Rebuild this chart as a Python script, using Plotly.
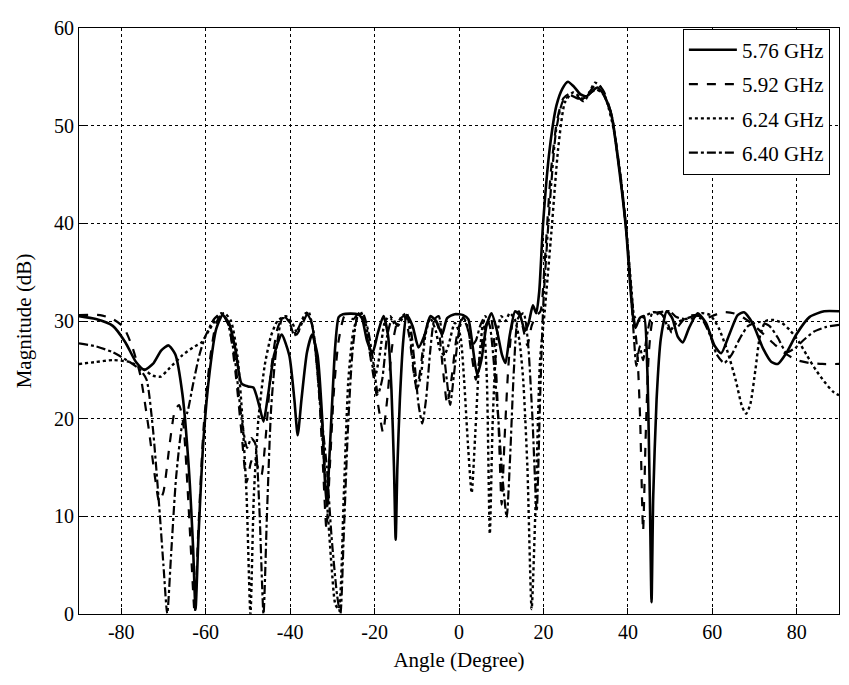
import plotly.graph_objects as go

# ---------- data ----------
x_576 = [-90, -86, -82, -79, -76.5, -74.5, -72.5, -70.5, -68.8, -67.2, -65.5, -64, -63, -62.4, -61.7, -60.5, -59, -57.5,
         -56, -54.5, -53, -51.5, -50, -48.7, -47.3, -46.3, -45.2, -43.8, -42, -40.2, -39, -38.2, -37.3, -36, -34.8,
         -33.5, -32.4, -31.8, -31.3, -30.7, -30, -29.3, -28.5, -27.5, -24, -23, -21.8, -20.5, -19.2, -17.9, -16.8,
         -16, -15.4, -15, -14.6, -14, -13.2, -12.4, -11, -9.6, -8.2, -6.8, -5.4, -4, -2.8, -1, 1, 2.2, 3.2, 4.3, 5.3,
         6.5, 7.7, 9, 10.2, 11, 12, 13.3, 14.5, 15.6, 16.5, 17.5, 18.3, 19, 19.9, 21.5, 23.1, 24.5, 25.8, 27.2, 28.8,
         30.2, 31.5, 32.8, 34.3, 36.1, 38.1, 39.6, 40.4, 41.2, 41.8, 42.8, 43.8, 44.6, 45.2, 45.6, 46.0, 46.8, 47.8,
         49.2, 50.5, 51.8, 53, 54.5, 56.5, 58.5, 60.5, 62.1, 64, 66, 67.5, 69.5, 72, 74, 75.5, 77.5, 80, 83, 86.5, 90]
y_576 = [30.5, 30.2, 29.5, 27.8, 25.8, 25.0, 25.6, 27.0, 27.5, 26.6, 22.5, 15, 7, 0.5, 8, 18, 25, 29.2,
         30.6, 29.8, 27.2, 23.6, 23.3, 23.2, 21.3, 19.7, 22.5, 26.5, 28.6, 26.5, 22, 18.3, 22, 26.8, 28.6,
         26.5, 20, 14, 11, 16, 22, 27.5, 30.4, 30.7, 30.7, 30.3, 28, 26.7, 28.8, 30.5, 28.5,
         23, 15, 7.6, 15, 22, 28, 30.6, 29.5, 27.3, 28.5, 30.5, 30, 28.6, 30.3, 30.7, 30.6, 30.2, 27.5, 24.5, 26,
         29.5, 30.8, 29, 26.5, 25.7, 28.5, 31, 30.5, 29, 29.8, 31.6, 30.8, 33, 39.9, 47.7, 52.1, 53.8, 54.5, 54.0, 53.2,
         53.0, 53.5, 53.9, 53.2, 51.1, 45, 39.2, 34.5, 30.5, 29.3, 30.3, 30.5, 25, 12, 1.2, 12, 22, 28.2,
         31.0, 30.3, 28.4, 27.8, 29.3, 30.8, 29.8, 27.5, 26.7, 28.6, 30.6, 30.9, 29.8, 27.2, 25.8, 25.6, 26.7, 28.7, 30.4, 31, 31]

x_592 = [-90, -85, -82, -79.5, -77.5, -75.5, -73.5, -72, -71, -70, -68.5, -67.3, -66.3, -65.3, -64.3, -63.3, -62.6,
         -61.8, -60.5, -59, -57.5, -56, -54.5, -53, -51.5, -50.3, -49.3, -48.5, -47.6, -46.8, -45.8, -44.5, -43,
         -41.5, -40, -38.5, -37, -35.8, -34.5, -33.2, -32.2, -31.4, -30.6, -29.6, -28.5, -27, -25, -23.4, -22,
         -20.5, -19, -18, -17, -15.8, -14.5, -13, -11.8, -10.8, -10, -9, -8, -6.5, -5, -3.8, -2.8, -1.8, -0.5,
         0.8, 2, 3, 4, 5, 6.3, 7.5, 8.5, 9.4, 10.1, 10.8, 11.8, 13, 14.2, 15.3, 16.2, 17.2, 18.2, 19.3, 20.3,
         21.7, 23.2, 24.7, 26.3, 28, 29.5, 31, 32.8, 34.3, 36.2, 38.2, 39.7, 40.6, 41.4, 42.2, 42.9, 43.6, 44.2,
         45, 46, 47.5, 49, 50.4, 52, 54, 56, 58.5, 60.5, 62.5, 65, 67.5, 70, 72.5, 75, 77.5, 80, 83, 86, 90]
y_592 = [30.6, 30.6, 30.2, 29.4, 27.5, 24.5, 19, 14, 11.5, 12.5, 17.5, 20.8, 21.4, 19.5, 13, 5, 0,
         8, 19, 26, 29.8, 30.8, 29.5, 25, 18.5, 13.5, 15.5, 16.2, 15, 14.2, 18, 25, 29.2,
         30.5, 29.8, 28.6, 29.8, 30.8, 29, 23, 15, 8.7, 15, 23, 28, 30.6, 30.2, 31, 29,
         25, 21, 18.6, 22, 27.5, 30, 30.5, 28.5, 25, 23, 25.5, 29, 30.6, 29.5, 25, 21.5, 24, 28.5,
         30.4, 29.3, 26.5, 24, 26.5, 29.5, 30.4, 27, 19, 11.2, 18, 26, 30.5, 31, 29, 27.5, 29.5, 30.5, 31, 36,
         45, 50.5, 52.8, 53.3, 53, 52.5, 53.5, 54.3, 53.5, 51, 45, 39, 34, 30.5, 27, 20, 8.5, 18,
         27, 30.3, 30.8, 30.2, 28.8, 29.5, 30.5, 30.6, 30.3, 30.6, 30.9, 30.8, 30.3, 29.5, 28.5, 27.5, 26.6, 26, 25.7, 25.6, 25.6]

x_624 = [-90, -86, -82, -78, -74.5, -72.5, -70.7, -68.5, -65.5, -63, -61, -59, -57, -55.5, -54, -52.5, -51.3, -50.3,
         -49.4, -48.6, -47.5, -46, -44.5, -43, -41, -39.5, -38.3, -37, -35.7, -34.5, -33, -31.5, -30.2, -29.3,
         -28.5, -27.3, -26.2, -25, -23.4, -22, -20.8, -19.8, -18.8, -17.5, -16.3, -15, -13.8, -12.4, -11.2, -10,
         -9, -8, -6.8, -5.5, -4.5, -3.5, -2.5, -1, 0.3, 1.2, 2.1, 3, 3.8, 4.8, 5.8, 6.6, 7.3, 8, 9, 10, 11, 12,
         13.2, 14.3, 15.2, 16.2, 17.2, 18.2, 19.2, 20.3, 21.9, 23.5, 25.1, 27, 28.5, 29.8, 31, 32.2, 33.5, 35,
         36.7, 38.5, 39.8, 40.8, 41.5, 42.5, 44, 46, 48, 49.9, 51.5, 53.5, 55.5, 57.5, 59.5, 61.5, 63.5, 65.5,
         67, 68, 69, 70.2, 71.3, 72.7, 74.5, 76.5, 78.5, 80.6, 82.5, 84.5, 86.5, 88.5, 90]
y_624 = [25.6, 25.8, 26.0, 25.8, 25, 24.4, 24.3, 25.2, 26.5, 27.3, 27.8, 29.2, 30.5, 30.8, 30, 26.5, 20, 12,
         0, 12, 20, 25.5, 28.5, 30, 30.5, 29.8, 28.8, 30, 31, 29, 22, 13, 5, 1,
         0.5, 12, 24, 29, 31, 29.5, 26, 24.5, 26.5, 30, 30.5, 29.5, 30.3, 30.8, 27, 23,
         24.5, 28.5, 30.3, 29, 27, 26.5, 27.5, 29.8, 28.5, 24, 17.5, 12.4, 18, 26, 30.2, 24, 8.2, 20, 28.5, 30.5, 30, 30.8,
         30.2, 28, 24, 15, 0.5, 12, 26, 31, 39.2, 47.7, 52.4, 53.4, 53, 52.6, 53.5, 54.4, 54.0, 52.5,
         49.5, 44, 38.5, 33.5, 30.5, 30, 30.5, 30.9, 30.8, 29, 29.8, 30.2, 30.3, 30.8, 30.6, 29.3, 27, 24,
         21.3, 20.5, 21.5, 25, 28.5, 30, 30.1, 29.8, 29, 27.8, 26.4, 25, 23.8, 22.8, 22.4]

x_640 = [-90, -86, -82, -78, -75.5, -74, -72.5, -71, -70, -69.1, -68.2, -67, -65.5, -64.3, -63, -61.5, -60, -58,
         -56.3, -54.8, -53.2, -51.5, -50.2, -49.2, -48.3, -47.3, -46.3, -45.5, -44.5, -43.3, -41.8, -40.3, -39,
         -37.8, -36.3, -35, -34, -32.5, -31.3, -30.2, -28.9, -28.1, -27.3, -26.3, -25.2, -24, -22.8, -21.5, -20.2,
         -19.2, -18.2, -17, -15.8, -14.5, -13, -11.8, -10.6, -9.6, -8.7, -7.8, -6.8, -5.8, -4.8, -3.8, -2.9, -2.1,
         -1.2, 0, 1, 2, 3, 4, 5, 6.2, 7.3, 8.3, 9.3, 10.3, 11.3, 12.1, 13, 14, 15.3, 16.3, 17.4, 18.4, 19.2, 20,
         21.5, 23, 24.6, 26.4, 28, 29.5, 31, 32.5, 34, 36, 38, 39.6, 40.6, 41.4, 42, 42.8, 43.6, 44.5, 45.8, 47.5,
         49.9, 51.5, 53.5, 55.5, 57.5, 59.5, 61, 62.8, 64.5, 66.5, 68.5, 71.2, 73.5, 75.5, 77.5, 79.5, 81.5, 84,
         87, 90]
y_640 = [27.7, 27.4, 26.8, 25.8, 25.0, 24, 19, 11, 5, 0, 6, 14, 19.5, 20.7, 23.5, 26.5, 28.5, 30.2,
         30.8, 29.8, 26.5, 20, 17, 18, 17.5, 11, 0, 10, 21, 27, 30.3, 30, 28.5,
         29.5, 30.8, 30, 27, 20, 15, 8, 2, 0, 8, 19, 27, 30.5, 30.8, 29, 25.5,
         22.5, 24, 28.5, 30.3, 29.5, 30.5, 30, 26, 21.5, 19.5, 22, 27, 30.2, 30.5, 27.5, 24, 21.4,
         24.5, 29, 30.4, 29.5, 27.5, 28, 29.5, 30.5, 29.5, 25.5, 20, 14, 9.9, 16, 25, 30.3, 30.8, 28, 20, 10.5, 22, 32,
         42, 49.5, 52.5, 53.1, 52.8, 52.8, 53.3, 53.7, 53.3, 51.3, 45.5, 39.5, 34, 28.5, 25.4, 27.4, 26, 28.5, 30.8, 30.9,
         31, 30.4, 30.2, 30.5, 30.2, 28.5, 26.6, 25.7, 26.5, 28.2, 29.5, 29.9, 29.5, 28.3, 26.8, 27.2, 28, 28.9,
         29.4, 29.6]

series = [
    ("5.76 GHz", x_576, y_576, "solid", 2.6),
    ("5.92 GHz", x_592, y_592, "dash", 2.2),
    ("6.24 GHz", x_624, y_624, "dot", 2.4),
    ("6.40 GHz", x_640, y_640, "dashdot", 2.2),
]

x_ticks = [-80, -60, -40, -20, 0, 20, 40, 60, 80]
x_tick_labels = ["-80", "-60", "-40", "-20", "0", "20", "40", "60", "80"]
y_ticks = [0, 10, 20, 30, 40, 50, 60]

FONT = "Liberation Serif, Times New Roman, serif"

fig = go.Figure()
for i, (name, xs, ys, dash, w) in enumerate(series):
    fig.add_trace(go.Scatter(
        x=xs, y=ys, name=name, mode="lines",
        line=dict(color="black", dash=dash, width=w, shape="spline", smoothing=0.6),
        legendgroup=f"g{i}",
    ))

axis_common = dict(
    showline=True, linecolor="black", linewidth=1, mirror=True,
    showgrid=True, gridcolor="black", gridwidth=1, griddash="dot",
    ticks="inside", ticklen=6, tickcolor="black",
    tickfont=dict(family=FONT, size=20, color="black"),
    zeroline=False,
)

# page body has an 8px default margin, so the figure is 8px smaller than the window
fig.update_layout(
    width=841, height=677,
    margin=dict(l=71, r=9, t=14, b=71),
    paper_bgcolor="white", plot_bgcolor="white",
    font=dict(family=FONT, color="black"),
    xaxis=dict(range=[-90, 90], tickvals=x_ticks, ticktext=x_tick_labels, **axis_common,
               title=dict(text="Angle (Degree)", font=dict(family=FONT, size=21), standoff=10)),
    yaxis=dict(range=[0, 60], tickvals=y_ticks, **axis_common,
               title=dict(text="Magnitude (dB)", font=dict(family=FONT, size=21), standoff=16)),
    legend=dict(x=0.988, y=0.999, xanchor="right", yanchor="top",
                bgcolor="white", bordercolor="black", borderwidth=1,
                font=dict(family=FONT, size=21, color="black"),
                tracegroupgap=4, itemwidth=48),
    showlegend=True,
)

fig.write_html("out.html")
